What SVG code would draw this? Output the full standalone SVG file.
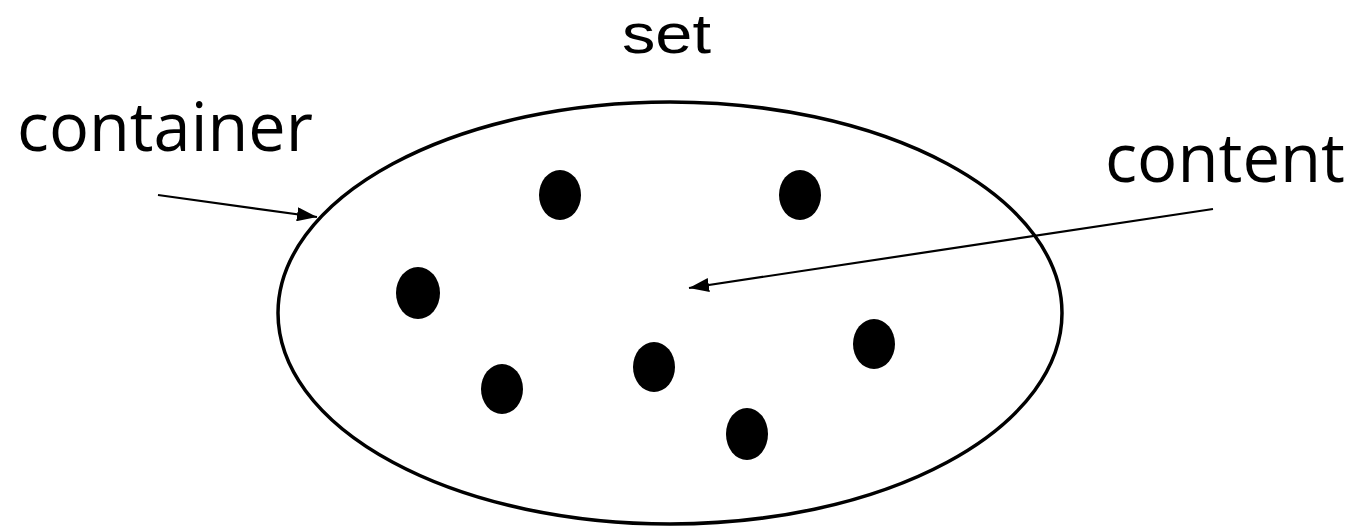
<svg xmlns="http://www.w3.org/2000/svg" width="1356" height="528" viewBox="0 0 1356 528">
<style>
text{font-family:"Open Sans","Liberation Sans",sans-serif;font-size:68px;fill:#000}
.title{font-family:"Liberation Sans",sans-serif;font-size:56px}
.dot{fill:#000}
.conn{stroke:#000;stroke-width:2.2;fill:none}
</style>
<defs>
<marker id="ahb" viewBox="0 0 20 14" refX="20" refY="7" markerWidth="20" markerHeight="14" markerUnits="userSpaceOnUse" orient="auto">
<path d="M0,0 L20,7 L0,14 z" fill="#000"/>
</marker>
</defs>
<rect width="1356" height="528" fill="#fff"/>
<g id="set">
<ellipse cx="670" cy="313" rx="392" ry="211" fill="none" stroke="#000" stroke-width="3.5"/>
<text class="title" x="622" y="53" textLength="89" lengthAdjust="spacingAndGlyphs">set</text>
</g>
<g id="elements">
<ellipse class="dot" cx="560" cy="195" rx="21" ry="25"/>
<ellipse class="dot" cx="800" cy="195" rx="21" ry="25"/>
<ellipse class="dot" cx="418" cy="293" rx="22" ry="26"/>
<ellipse class="dot" cx="502" cy="389" rx="21" ry="25"/>
<ellipse class="dot" cx="654" cy="367" rx="21" ry="25"/>
<ellipse class="dot" cx="874" cy="344" rx="21" ry="25"/>
<ellipse class="dot" cx="747" cy="434" rx="21" ry="26"/>
</g>
<g id="container">
<text x="17" y="151" textLength="296" lengthAdjust="spacingAndGlyphs">container</text>
</g>
<g id="content">
<text x="1105" y="182" textLength="240" lengthAdjust="spacingAndGlyphs">content</text>
</g>
<g id="connectors">
<line class="conn" x1="158" y1="195" x2="317" y2="217" marker-end="url(#ahb)"/>
<line class="conn" x1="1213" y1="209" x2="689" y2="288" marker-end="url(#ahb)"/>
</g>
</svg>
